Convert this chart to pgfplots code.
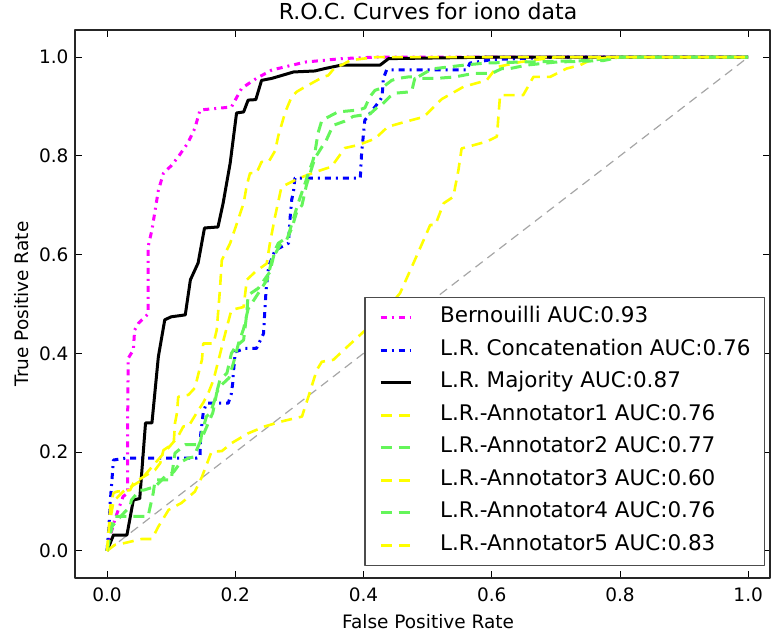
\documentclass[border=0pt]{standalone}
\usepackage{fontspec}
\setmainfont{DejaVu Sans}
\usepackage{pgfplots}
\pgfplotsset{compat=1.18}
\definecolor{mag}{RGB}{255,0,255}
\definecolor{blu}{RGB}{0,0,255}
\definecolor{yel}{RGB}{255,255,0}
\definecolor{grn}{RGB}{100,245,90}
\begin{document}
\begin{tikzpicture}
\useasboundingbox (-75pt,-54pt) rectangle (696pt,578pt);
\begin{axis}[
  at={(0pt,0pt)}, anchor=south west,
  scale only axis, width=695pt, height=548pt,
  xmin=-0.05, xmax=1.034, ymin=-0.055, ymax=1.055,
  xtick={0,0.2,0.4,0.6,0.8,1.0}, ytick={0,0.2,0.4,0.6,0.8,1.0},
  xticklabels={0.0,0.2,0.4,0.6,0.8,1.0},
  yticklabels={0.0,0.2,0.4,0.6,0.8,1.0},
  tick align=inside, major tick length=7pt,
  tick style={black, line width=0.8pt},
  axis line style={black!85, line width=1.3pt},
  tick label style={font=\fontsize{18.5}{18.5}\selectfont},
  xticklabel style={yshift=-6pt},
  yticklabel style={xshift=-3pt},
  title={R.O.C. Curves for iono data},
  title style={font=\fontsize{22}{22}\selectfont, at={(axis description cs:0.508,1.0091)}, anchor=base},
  xlabel={False Positive Rate},
  ylabel={True Positive Rate},
  xlabel style={font=\fontsize{18.5}{18.5}\selectfont, at={(axis description cs:0.508,-0.093)}, anchor=base},
  ylabel style={font=\fontsize{18.5}{18.5}\selectfont, at={(axis description cs:-0.0676,0.5)}, anchor=base},
  legend cell align=left,
  legend image code/.code={\draw[#1] (0pt,0pt) -- (30pt,0pt);},
  legend style={
    at={(axis description cs:0.993,0.022)}, anchor=south east,
    draw=black!70, line width=1.2pt, fill=white,
    font=\fontsize{21.5}{24}\selectfont,
    inner xsep=14pt, inner ysep=10pt,
    row sep=12.5pt, column sep=28pt,
    nodes={inner sep=0pt, text height=15pt, text depth=5pt},
  },
  line join=round,
]
\addplot[gray!70, line width=1.2pt, dash pattern=on 9pt off 6pt, forget plot] coordinates {(0,0) (1,1)};

\addplot[mag, line width=3pt, dash pattern=on 6pt off 5pt on 2pt off 5pt] coordinates {
(0,0) (0.005,0.03) (0.012,0.063) (0.025,0.11) (0.032,0.117) (0.032,0.25) (0.033,0.39) (0.041,0.407) (0.043,0.447) (0.049,0.461) (0.064,0.48) (0.064,0.616) (0.07,0.65) (0.08,0.73) (0.088,0.765) (0.1,0.78) (0.111,0.798) (0.126,0.826) (0.137,0.856) (0.145,0.893) (0.194,0.899) (0.21,0.937) (0.233,0.957) (0.257,0.974) (0.309,0.99) (0.366,0.997) (0.418,1) (1,1)};
\addlegendentry{Bernouilli AUC:0.93}

\addplot[blu, line width=3pt, dash pattern=on 6pt off 5pt on 2pt off 5pt] coordinates {
(0,0) (0.003,0.05) (0.005,0.1) (0.008,0.15) (0.01,0.184) (0.03,0.188) (0.14,0.188) (0.145,0.19) (0.146,0.235) (0.15,0.28) (0.155,0.299) (0.189,0.299) (0.194,0.319) (0.196,0.34) (0.197,0.36) (0.2,0.403) (0.215,0.41) (0.233,0.41) (0.244,0.44) (0.246,0.484) (0.248,0.528) (0.252,0.576) (0.262,0.609) (0.283,0.623) (0.285,0.667) (0.288,0.711) (0.291,0.73) (0.293,0.755) (0.395,0.755) (0.397,0.805) (0.402,0.872) (0.41,0.886) (0.426,0.913) (0.429,0.92) (0.431,0.957) (0.436,0.974) (0.561,0.974) (0.566,0.988) (0.6,0.995) (0.7,1) (1,1)};
\addlegendentry{L.R. Concatenation AUC:0.76}

\addplot[black, line width=3pt] coordinates {
(0,0) (0.01,0.032) (0.031,0.032) (0.041,0.103) (0.051,0.106) (0.06,0.259) (0.07,0.259) (0.08,0.393) (0.09,0.468) (0.1,0.474) (0.122,0.478) (0.13,0.549) (0.142,0.583) (0.152,0.654) (0.173,0.656) (0.181,0.704) (0.192,0.785) (0.202,0.887) (0.213,0.889) (0.22,0.913) (0.232,0.914) (0.241,0.953) (0.257,0.957) (0.291,0.97) (0.324,0.972) (0.34,0.977) (0.366,0.984) (0.426,0.984) (0.439,0.997) (0.6,1) (1,1)};
\addlegendentry{L.R. Majority AUC:0.87}

\addplot[yel, line width=2.6pt, dash pattern=on 11pt off 7pt] coordinates {
(0,0) (0.003,0.03) (0.006,0.07) (0.01,0.1) (0.025,0.12) (0.05,0.14) (0.07,0.17) (0.09,0.2) (0.11,0.23) (0.119,0.252) (0.127,0.252) (0.14,0.28) (0.15,0.3) (0.158,0.32) (0.166,0.346) (0.179,0.413) (0.187,0.454) (0.194,0.488) (0.213,0.494) (0.218,0.549) (0.231,0.565) (0.249,0.582) (0.254,0.623) (0.262,0.677) (0.272,0.737) (0.298,0.754) (0.324,0.767) (0.35,0.778) (0.371,0.816) (0.392,0.822) (0.418,0.835) (0.438,0.859) (0.465,0.869) (0.494,0.879) (0.522,0.915) (0.556,0.94) (0.592,0.953) (0.608,0.98) (0.644,0.99) (0.7,1) (1,1)};
\addlegendentry{L.R.-Annotator1 AUC:0.76}

\addplot[grn, line width=3pt, dash pattern=on 11pt off 7pt] coordinates {
(0,0) (0.005,0.04) (0.012,0.07) (0.064,0.07) (0.072,0.117) (0.075,0.144) (0.1,0.144) (0.106,0.198) (0.122,0.215) (0.145,0.215) (0.148,0.24) (0.155,0.272) (0.161,0.279) (0.168,0.306) (0.176,0.346) (0.187,0.36) (0.194,0.4) (0.2,0.413) (0.213,0.427) (0.218,0.482) (0.22,0.518) (0.236,0.532) (0.254,0.565) (0.262,0.609) (0.267,0.623) (0.282,0.636) (0.298,0.704) (0.309,0.745) (0.314,0.765) (0.321,0.79) (0.324,0.805) (0.329,0.846) (0.335,0.872) (0.36,0.889) (0.392,0.893) (0.402,0.897) (0.41,0.92) (0.418,0.933) (0.428,0.937) (0.444,0.953) (0.454,0.957) (0.47,0.96) (0.485,0.96) (0.504,0.974) (0.512,0.977) (0.558,0.984) (0.59,0.988) (0.644,0.99) (0.75,0.993) (0.8,1) (1,1)};
\addlegendentry{L.R.-Annotator2 AUC:0.77}

\addplot[yel, line width=2.6pt, dash pattern=on 11pt off 7pt] coordinates {
(0,0) (0.012,0.012) (0.028,0.016) (0.054,0.024) (0.07,0.024) (0.08,0.049) (0.096,0.083) (0.116,0.097) (0.137,0.12) (0.148,0.15) (0.163,0.201) (0.179,0.202) (0.194,0.218) (0.22,0.238) (0.246,0.252) (0.272,0.262) (0.304,0.272) (0.314,0.312) (0.327,0.366) (0.335,0.383) (0.353,0.387) (0.366,0.403) (0.397,0.44) (0.43,0.48) (0.457,0.522) (0.478,0.583) (0.496,0.636) (0.504,0.66) (0.512,0.66) (0.525,0.704) (0.54,0.717) (0.548,0.771) (0.553,0.815) (0.592,0.829) (0.608,0.839) (0.613,0.923) (0.649,0.923) (0.665,0.96) (0.691,0.96) (0.717,0.977) (0.738,0.984) (0.759,0.997) (0.8,1) (1,1)};
\addlegendentry{L.R.-Annotator3 AUC:0.60}

\addplot[grn, line width=3pt, dash pattern=on 11pt off 7pt] coordinates {
(0,0) (0.008,0.05) (0.025,0.075) (0.036,0.09) (0.038,0.103) (0.051,0.123) (0.057,0.123) (0.075,0.13) (0.09,0.15) (0.104,0.16) (0.115,0.18) (0.127,0.188) (0.135,0.19) (0.145,0.22) (0.148,0.229) (0.155,0.25) (0.165,0.28) (0.171,0.32) (0.176,0.333) (0.19,0.35) (0.197,0.38) (0.205,0.42) (0.213,0.45) (0.22,0.49) (0.23,0.51) (0.24,0.53) (0.25,0.55) (0.257,0.589) (0.27,0.62) (0.28,0.63) (0.288,0.653) (0.296,0.687) (0.304,0.7) (0.311,0.741) (0.318,0.77) (0.324,0.795) (0.337,0.822) (0.34,0.826) (0.348,0.849) (0.353,0.862) (0.37,0.87) (0.384,0.88) (0.41,0.885) (0.423,0.9) (0.428,0.903) (0.441,0.92) (0.449,0.927) (0.475,0.93) (0.48,0.957) (0.514,0.957) (0.543,0.96) (0.571,0.967) (0.6,0.967) (0.616,0.977) (0.629,0.977) (0.655,0.984) (0.7,0.99) (0.774,0.993) (0.8,1) (1,1)};
\addlegendentry{L.R.-Annotator4 AUC:0.76}

\addplot[yel, line width=2.6pt, dash pattern=on 11pt off 7pt] coordinates {
(0,0) (0.003,0.05) (0.005,0.09) (0.01,0.117) (0.015,0.12) (0.036,0.123) (0.041,0.137) (0.057,0.15) (0.075,0.164) (0.083,0.178) (0.088,0.204) (0.104,0.218) (0.106,0.259) (0.109,0.279) (0.111,0.312) (0.127,0.316) (0.137,0.33) (0.148,0.387) (0.15,0.42) (0.166,0.42) (0.171,0.447) (0.176,0.528) (0.179,0.589) (0.192,0.623) (0.213,0.704) (0.218,0.741) (0.223,0.765) (0.233,0.765) (0.241,0.788) (0.252,0.788) (0.262,0.81) (0.267,0.84) (0.278,0.889) (0.288,0.92) (0.296,0.93) (0.309,0.94) (0.319,0.947) (0.337,0.96) (0.345,0.963) (0.356,0.98) (0.366,0.984) (0.38,0.994) (0.42,1) (1,1)};
\addlegendentry{L.R.-Annotator5 AUC:0.83}
\end{axis}
\end{tikzpicture}
\end{document}
